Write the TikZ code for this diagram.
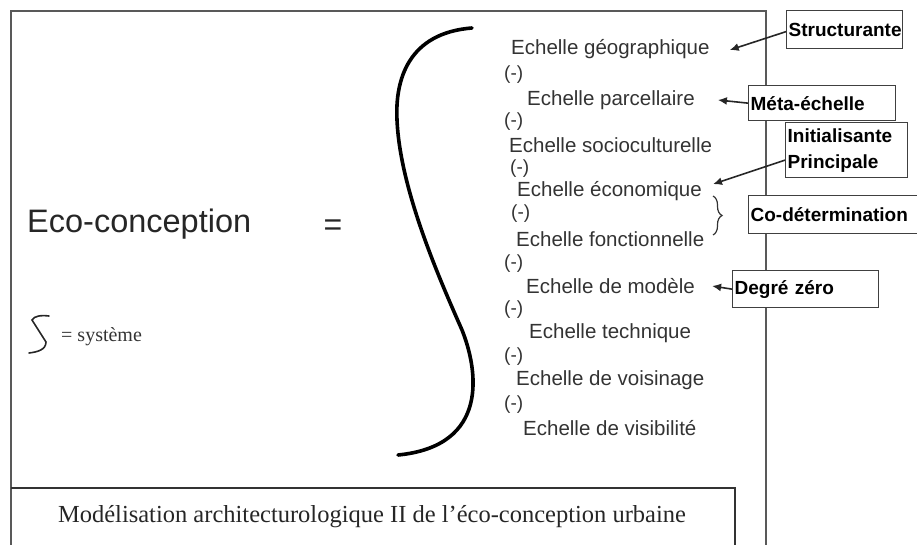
\documentclass[tikz,border=0pt]{standalone}
\usepackage{fontspec}
\setmainfont{Liberation Serif}
\newfontfamily\arialfont{Liberation Sans}
\usetikzlibrary{arrows.meta,decorations.pathreplacing}

\tikzset{
  echelle/.style={anchor=west, inner sep=1pt, text=black!80,
    font=\arialfont\fontsize{20.5}{22}\selectfont},
  moins/.style={anchor=west, inner sep=1pt, text=black!80,
    font=\arialfont\fontsize{19}{20}\selectfont},
  tagbox/.style={draw=black!75, line width=1.3pt, fill=white, anchor=north west,
    align=left, inner sep=2pt, font=\arialfont\bfseries\fontsize{19}{26}\selectfont},
  tagarrow/.style={-{Latex[length=9pt,width=8pt]}, line width=1.6pt, black!85},
  cadre/.style={draw=black!65, line width=1.6pt},
}

\begin{document}
\begin{tikzpicture}[x=1pt,y=-1pt]
\useasboundingbox (0,0) rectangle (917,545);

% ===== Cadre =====
\draw[cadre] (11,545) -- (11,11) -- (766,11) -- (766,545);
\draw[cadre, black!80] (11,488) -- (735,488) -- (735,545);
\node[font=\fontsize{24.5}{26}\selectfont, text=black!85] (caption) at (372,517)
  {Modélisation architecturologique II de l’éco-conception urbaine};

% ===== Partie gauche =====
\node[anchor=west, inner sep=0pt, text=black!85, font=\arialfont\fontsize{32.5}{36}\selectfont]
  (eco) at (27,224) {Eco-conception};
\node[inner sep=0pt, text=black!85, font=\arialfont\fontsize{32}{36}\selectfont]
  (egal) at (333,228) {=};

% symbole systeme
\draw[line width=1.6pt, black!85, line cap=round]
  (49,316) .. controls (41,315) and (34,316) .. (32,320)
  -- (46,342) .. controls (46,350) and (37,352) .. (29,353);
\node[anchor=west, inner sep=0pt, text=black!80, font=\fontsize{20}{22}\selectfont]
  (systeme) at (61,337) {= système};

% ===== Grande accolade =====
\draw[line width=3.6pt, line cap=round]
  (472,28) .. controls (408,33) and (395,80) .. (397,120)
  .. controls (400,190) and (440,280) .. (462,330)
  .. controls (478,370) and (490,446) .. (398,455);

% ===== Echelles =====
\node[echelle] (e1) at (510,49) {Echelle géographique};
\node[echelle] (e2) at (526,100) {Echelle parcellaire};
\node[echelle] (e3) at (508,145) {Echelle socioculturelle};
\node[echelle] (e4) at (516,191) {Echelle économique};
\node[echelle] (e5) at (515,239) {Echelle fonctionnelle};
\node[echelle] (e6) at (525,286) {Echelle de modèle};
\node[echelle] (e7) at (528,333) {Echelle technique};
\node[echelle] (e8) at (515,380) {Echelle de voisinage};
\node[echelle] (e9) at (522,428) {Echelle de visibilité};

% (-) entre les echelles
\foreach \n/\x/\y in {1/503/75, 2/503/122, 3/509/169, 4/510/214,
                      5/503/264, 6/503/310, 7/503/357, 8/503/405} {
    \node[moins] (m\n) at (\x,\y) {(-)};
}

% petite accolade
\draw[line width=1.2pt, black!80, decorate, decoration={brace, amplitude=9pt}]
  (713,196) -- (713,235);

% ===== Etiquettes =====
\node[tagbox, text width=112pt, minimum height=38pt] (struct) at (786,10) {Structurante};
\node[tagbox, text width=143pt, minimum height=35pt] (meta) at (748,85) {Méta-échelle};
\node[tagbox, text width=118pt, minimum height=55pt] (init) at (785,122) {Initialisante\\Principale};
\node[tagbox, text width=180pt, minimum height=38pt] (codet) at (748,195) {Co-détermination};
\node[tagbox, text width=142pt, minimum height=37pt] (degre) at (732,270) {Degré zéro};

% ===== Fleches =====
\draw[tagarrow] ([yshift=-2pt]struct.west) -- ([xshift=19pt,yshift=-1pt]e1.east);
\draw[tagarrow] (meta.west) -- ([xshift=22pt]e2.east);
\draw[tagarrow] ([yshift=-10pt]init.west) -- ([xshift=10pt,yshift=-4pt]e4.north east);
\draw[tagarrow] (degre.west) -- ([xshift=16pt]e6.east);

\end{tikzpicture}
\end{document}
